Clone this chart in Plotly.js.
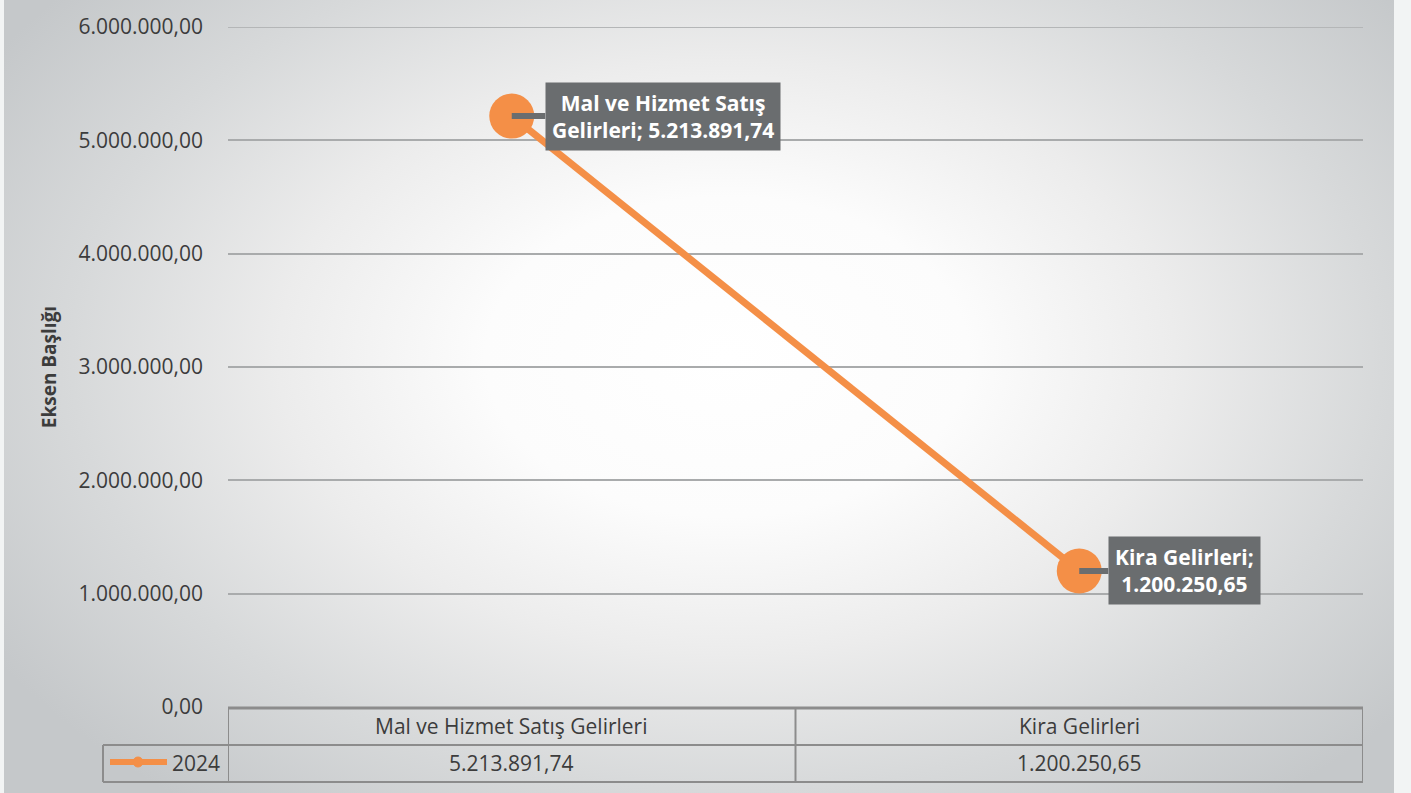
<!DOCTYPE html>
<html>
<head>
<meta charset="utf-8">
<script src="https://cdn.plot.ly/plotly-3.0.1.min.js"></script>
<style>
  html, body { margin:0; padding:0; width:1411px; height:793px; background:#f2f4f4; overflow:hidden; }
  #bg { position:absolute; left:4px; top:0; width:1390px; height:793px;
        background: radial-gradient(ellipse 62% 72% at 52% 45%, #ffffff 0%, #fcfcfc 28%, #ececec 52%, #d7d9da 76%, #c5c8ca 100%); }
  #chart { position:absolute; left:0; top:0; width:1411px; height:793px; }
</style>
</head>
<body>
<div id="bg"></div>
<div id="chart"></div>
<script>
const categories = ["Mal ve Hizmet Satış Gelirleri", "Kira Gelirleri"];
const values2024 = [5213891.74, 1200250.65];
const seriesName = "2024";
const yTickValues = [0, 1000000, 2000000, 3000000, 4000000, 5000000, 6000000];
const labelLines = [["Mal ve Hizmet Satış", "Gelirleri; 5.213.891,74"], ["Kira Gelirleri;", "1.200.250,65"]];
const tableValueTexts = ["5.213.891,74", "1.200.250,65"];
const axisTitle = "Eksen Başlığı";

const ORANGE = "#f48f47";
const FONT = "Open Sans, Noto Sans, sans-serif";
const GRID = "#8c8c8c";
const TXT = "#3c3c3c";

const W = 1411, H = 793;
const L = 228, R = 48, T = 27, B = 86;
const pw = W - L - R, ph = H - T - B;
const px = x => (x - L) / pw;
const py = y => (H - B - y) / ph;

const trace = {
  x: [0, 1], y: values2024, type: "scatter", mode: "lines+markers", name: seriesName,
  line: { color: ORANGE, width: 7 },
  marker: { color: ORANGE, size: 45 },
  hoverinfo: "skip", showlegend: false
};

const annotations = [];
const labelOffsets = [[151, 0], [105, 0]];
values2024.forEach((v, i) => {
  annotations.push({
    x: i, y: v, xref: "x", yref: "y",
    text: "<b>" + labelLines[i].join("<br>") + "</b>",
    showarrow: true, arrowhead: 0, arrowwidth: 6, arrowcolor: "#6a6d6f",
    ax: labelOffsets[i][0], ay: labelOffsets[i][1],
    bgcolor: "#6a6d6f", borderpad: 6,
    font: { family: FONT, size: 21, color: "#ffffff" },
    align: "center"
  });
});
categories.forEach((c, i) => {
  annotations.push({ x: i, y: py(726), xref: "x", yref: "paper", text: c, showarrow: false,
    font: { family: FONT, size: 21, color: TXT }, yanchor: "middle" });
  annotations.push({ x: i, y: py(763), xref: "x", yref: "paper", text: tableValueTexts[i], showarrow: false,
    font: { family: FONT, size: 21, color: TXT }, yanchor: "middle" });
});
annotations.push({ x: px(222), y: py(763), xref: "paper", yref: "paper", text: seriesName, showarrow: false,
  xanchor: "right", yanchor: "middle", font: { family: FONT, size: 21, color: TXT } });

const shapes = [];
const tl = (x0, y0, x1, y1, xr, w) => shapes.push({ type: "line", xref: xr || "paper", yref: "paper",
  x0, y0, x1, y1, line: { color: GRID, width: w || 2 } });
tl(px(L), py(708), px(1363), py(708), "paper", 3);
tl(px(103), py(745), px(1363), py(745));
tl(px(103), py(782), px(1363), py(782));
tl(px(103), py(745), px(103), py(782));
tl(-0.5, py(707), -0.5, py(782), "x");
tl(0.5, py(707), 0.5, py(782), "x");
tl(1.5, py(707), 1.5, py(782), "x");
shapes.push({ type: "line", xref: "paper", yref: "y", x0: 0, x1: 1,
  y0: yTickValues[yTickValues.length - 1], y1: yTickValues[yTickValues.length - 1],
  line: { color: "#b4b6b7", width: 2 }, layer: "below" });
shapes.push({ type: "line", xref: "paper", yref: "paper", x0: px(110), x1: px(167), y0: py(762), y1: py(762),
  line: { color: ORANGE, width: 6 } });
shapes.push({ type: "circle", xref: "paper", yref: "paper", x0: px(133), x1: px(143), y0: py(757), y1: py(767),
  fillcolor: ORANGE, line: { color: ORANGE, width: 1 } });

const layout = {
  width: W, height: H,
  margin: { l: L, r: R, t: T, b: B },
  paper_bgcolor: "rgba(0,0,0,0)", plot_bgcolor: "rgba(0,0,0,0)",
  separators: ",.",
  font: { family: FONT, color: TXT },
  xaxis: { range: [-0.5, 1.5], showgrid: false, zeroline: false, showticklabels: false, showline: false, fixedrange: true },
  yaxis: {
    range: [0, 6000000], tickvals: yTickValues, tickformat: ",.2f",
    showgrid: true, gridcolor: "#a9abac", gridwidth: 2, zeroline: false, showline: false,
    ticks: "", ticklabelstandoff: 24,
    tickfont: { family: FONT, size: 21, color: TXT },
    title: { text: "<b>" + axisTitle + "</b>", font: { family: FONT, size: 19, color: TXT }, standoff: 16 },
    automargin: false, fixedrange: true
  },
  annotations, shapes
};

Plotly.newPlot("chart", [trace], layout, { displayModeBar: false, staticPlot: true });
</script>
</body>
</html>
